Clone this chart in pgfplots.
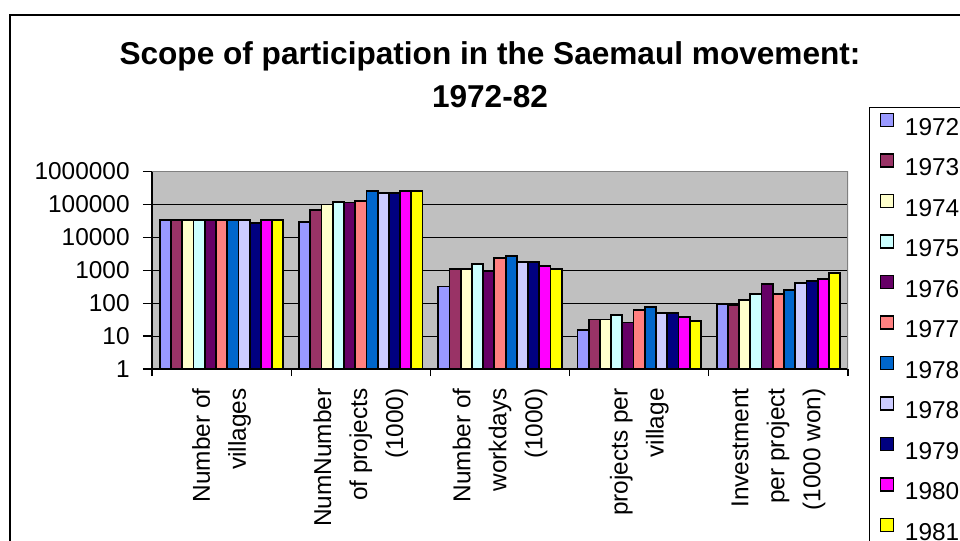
\documentclass[border=0pt]{standalone}
\usepackage{fontspec}
\setmainfont{Liberation Sans}
\usepackage{pgfplots}
\pgfplotsset{compat=1.18}
\definecolor{cA}{HTML}{9999FF}
\definecolor{cB}{HTML}{993366}
\definecolor{cC}{HTML}{FFFFCC}
\definecolor{cD}{HTML}{CCFFFF}
\definecolor{cE}{HTML}{660066}
\definecolor{cF}{HTML}{FF8080}
\definecolor{cG}{HTML}{0066CC}
\definecolor{cH}{HTML}{CCCCFF}
\definecolor{cI}{HTML}{000080}
\definecolor{cJ}{HTML}{FF00FF}
\definecolor{cK}{HTML}{FFFF00}
\definecolor{bgG}{HTML}{C0C0C0}
\begin{document}
\begin{tikzpicture}[x=0.5pt,y=0.5pt]
\useasboundingbox (0,0) rectangle (960,541);
\clip (0,0) rectangle (960,541);
\fill[white] (0,0) rectangle (960,541);
\draw[black, line width=0.6pt] (10,-20) -- (10,526) -- (1000,526);
\node[anchor=base, inner sep=0pt, font=\bfseries\fontsize{15.8}{20}\selectfont] at (490,476) {Scope of participation in the Saemaul movement:};
\node[anchor=base, inner sep=0pt, font=\bfseries\fontsize{15.8}{20}\selectfont] at (490,433) {1972-82};
\begin{axis}[
  at={(76pt,86pt)}, anchor=south west, scale only axis,
  width=348pt, height=98.75pt,
  ymode=log, ymin=1, ymax=1000000, xmin=-0.5, xmax=4.5,
  ybar=0pt, bar width=0.0807,
  axis x line*=bottom, axis y line*=left,
  axis line style={black, line width=0.7pt},
  axis background/.style={fill=bgG},
  ytick={1,10,100,1000,10000,100000,1000000},
  yticklabels={1,10,100,1000,10000,100000,1000000},
  yminorticks=false,
  xtick={0,1,2,3,4},
  xticklabels={Number of\\villages, NumNumber\\of projects\\(1000), Number of\\workdays\\(1000), projects per\\village, Investment\\per project\\(1000 won)},
  minor xtick={-0.5,0.5,1.5,2.5,3.5,4.5},
  tick align=outside, major tick length=4.5pt, minor tick length=3.5pt,
  tick style={black, line width=0.6pt},
  every major x tick/.append style={draw=none},
  ymajorgrids, major grid style={black, line width=0.5pt},
  yticklabel style={font=\fontsize{12.2}{14}\selectfont, anchor=east, inner sep=0pt, xshift=-6.5pt},
  xticklabel style={font=\fontsize{12.2}{18}\selectfont, rotate=90, anchor=east, align=right, inner sep=0pt},
  xticklabel shift=5pt,
  every axis plot/.append style={draw=black, line width=0.9pt},
  every axis plot post/.append style={legend image code/.code={\draw[##1, line width=0.6pt] (0pt,0pt) rectangle (6.5pt,6.5pt);}},
  legend style={at={(1.0306,1.325)}, anchor=north west, draw=black, line width=0.5pt, fill=white,
    inner xsep=5pt, inner ysep=2.5pt, row sep=8.95pt, column sep=5.5pt,
    font=\fontsize{12.2}{14}\selectfont,
    nodes={inner sep=0pt, text height=9pt, text depth=0pt}},
  legend cell align=left,
]
\addplot[fill=cA] coordinates {(0,34000) (1,30000) (2,320) (3,15) (4,95)};
\addlegendentry{1972}
\addplot[fill=cB] coordinates {(0,34000) (1,68000) (2,1070) (3,32) (4,87)};
\addlegendentry{1973}
\addplot[fill=cC] coordinates {(0,34000) (1,100000) (2,1070) (3,32) (4,126)};
\addlegendentry{1974}
\addplot[fill=cD] coordinates {(0,34000) (1,117000) (2,1550) (3,43) (4,186)};
\addlegendentry{1975}
\addplot[fill=cE] coordinates {(0,34000) (1,115000) (2,930) (3,26) (4,375)};
\addlegendentry{1976}
\addplot[fill=cF] coordinates {(0,34000) (1,130000) (2,2360) (3,63) (4,186)};
\addlegendentry{1977}
\addplot[fill=cG] coordinates {(0,34000) (1,260000) (2,2700) (3,75) (4,252)};
\addlegendentry{1978}
\addplot[fill=cH] coordinates {(0,34000) (1,225000) (2,1780) (3,49) (4,420)};
\addlegendentry{1978}
\addplot[fill=cI] coordinates {(0,27000) (1,225000) (2,1780) (3,49) (4,480)};
\addlegendentry{1979}
\addplot[fill=cJ] coordinates {(0,34000) (1,250000) (2,1350) (3,39) (4,550)};
\addlegendentry{1980}
\addplot[fill=cK] coordinates {(0,34000) (1,250000) (2,1070) (3,29) (4,810)};
\addlegendentry{1981}
\draw[gray, line width=0.9pt] (rel axis cs:0,1) -- (rel axis cs:1,1) -- (rel axis cs:1,0);
\end{axis}
\end{tikzpicture}
\end{document}
